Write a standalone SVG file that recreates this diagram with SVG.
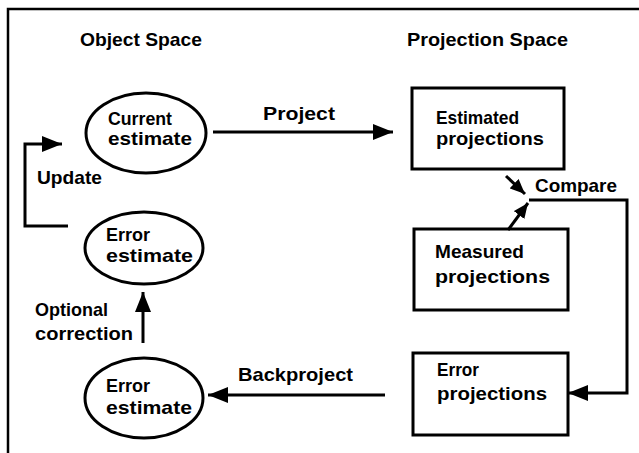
<svg xmlns="http://www.w3.org/2000/svg" width="639" height="453" viewBox="0 0 639 453">
<style>
text{font-family:"Liberation Sans",Arial,sans-serif;font-weight:bold;font-size:19px;fill:#000}
.sh{fill:#fff;stroke:#000;stroke-width:3}
.ln{fill:none;stroke:#000;stroke-width:3}
.frame{fill:none;stroke:#000;stroke-width:2.5}
</style>
<defs>
<marker id="ah" markerUnits="userSpaceOnUse" markerWidth="20" markerHeight="16" refX="20" refY="8" orient="auto">
<path d="M0,0 L20,8 L0,16 z" fill="#000"/>
</marker>
<marker id="as" markerUnits="userSpaceOnUse" markerWidth="15" markerHeight="13" refX="15" refY="6.5" orient="auto">
<path d="M0,0 L15,6.5 L0,13 z" fill="#000"/>
</marker>
</defs>
<rect width="639" height="453" fill="#fff"/>
<path class="frame" d="M8,453 V9 H639"/>

<g id="labels">
<text x="80" y="46" textLength="122" lengthAdjust="spacingAndGlyphs">Object Space</text>
<text x="407" y="46" textLength="161" lengthAdjust="spacingAndGlyphs">Projection Space</text>
</g>

<g id="current-estimate">
<ellipse class="sh" cx="146" cy="133" rx="60" ry="40"/>
<text x="108" y="125" textLength="64" lengthAdjust="spacingAndGlyphs">Current</text>
<text x="108" y="145" textLength="84" lengthAdjust="spacingAndGlyphs">estimate</text>
</g>

<g id="error-estimate-mid">
<ellipse class="sh" cx="144" cy="248" rx="59" ry="36"/>
<text x="106" y="241" textLength="44" lengthAdjust="spacingAndGlyphs">Error</text>
<text x="106" y="262" textLength="87" lengthAdjust="spacingAndGlyphs">estimate</text>
</g>

<g id="error-estimate-bottom">
<ellipse class="sh" cx="144" cy="398" rx="59" ry="40"/>
<text x="106" y="392" textLength="44" lengthAdjust="spacingAndGlyphs">Error</text>
<text x="106" y="414" textLength="86" lengthAdjust="spacingAndGlyphs">estimate</text>
</g>

<g id="estimated-projections">
<rect class="sh" x="412" y="88" width="152" height="81"/>
<text x="436" y="124" textLength="83" lengthAdjust="spacingAndGlyphs">Estimated</text>
<text x="436" y="145" textLength="108" lengthAdjust="spacingAndGlyphs">projections</text>
</g>

<g id="measured-projections">
<rect class="sh" x="414" y="229" width="154" height="81"/>
<text x="435" y="258" textLength="89" lengthAdjust="spacingAndGlyphs">Measured</text>
<text x="435" y="283" textLength="115" lengthAdjust="spacingAndGlyphs">projections</text>
</g>

<g id="error-projections">
<rect class="sh" x="413" y="353" width="155" height="82"/>
<text x="437" y="376" textLength="42" lengthAdjust="spacingAndGlyphs">Error</text>
<text x="437" y="400" textLength="110" lengthAdjust="spacingAndGlyphs">projections</text>
</g>

<g id="connectors">
<line class="ln" x1="213" y1="132" x2="393" y2="132" marker-end="url(#ah)"/>
<text x="263" y="120" textLength="72" lengthAdjust="spacingAndGlyphs">Project</text>

<line class="ln" x1="506" y1="176" x2="525" y2="194" marker-end="url(#as)"/>
<line class="ln" x1="508" y1="230" x2="528" y2="203" marker-end="url(#as)"/>
<text x="535" y="192" textLength="82" lengthAdjust="spacingAndGlyphs">Compare</text>
<path class="ln" d="M529,200 H627 V393 H568" marker-end="url(#ah)"/>

<line class="ln" x1="385" y1="395" x2="208" y2="395" marker-end="url(#ah)"/>
<text x="238" y="381" textLength="115" lengthAdjust="spacingAndGlyphs">Backproject</text>

<line class="ln" x1="143" y1="343" x2="143" y2="292" marker-end="url(#ah)"/>
<text x="35" y="316" textLength="73" lengthAdjust="spacingAndGlyphs">Optional</text>
<text x="35" y="340" textLength="98" lengthAdjust="spacingAndGlyphs">correction</text>

<path class="ln" d="M68,226 H25 V144 H62" marker-end="url(#ah)"/>
<text x="37" y="184" textLength="65" lengthAdjust="spacingAndGlyphs">Update</text>
</g>
</svg>
